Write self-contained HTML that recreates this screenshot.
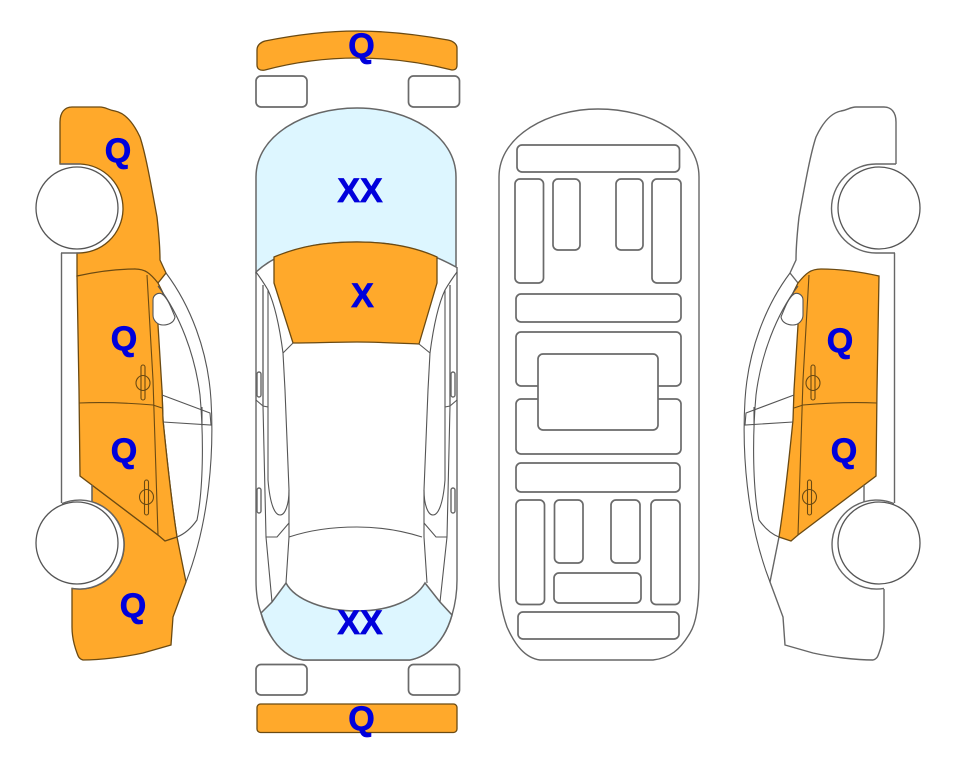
<!DOCTYPE html>
<html>
<head>
<meta charset="utf-8">
<style>
html,body{margin:0;padding:0;background:#fff;width:963px;height:768px;overflow:hidden}
svg{display:block}
text{font-family:"Liberation Sans",sans-serif;font-weight:bold;font-size:34px;fill:#0000dc;stroke:#0000dc;stroke-width:.7;text-anchor:middle}
.g{fill:none;stroke:#666;stroke-width:1.4}
.k{fill:none;stroke:#555;stroke-width:1.1}
.r{fill:#fff;stroke:#6a6a6a;stroke-width:1.7}
.o{fill:#ffa92b;stroke:#6b4a12;stroke-width:1.3}
.b{fill:#ddf6ff;stroke:#666;stroke-width:1.5}
.d{fill:none;stroke:#6b4a12;stroke-width:1.1}
</style>
</head>
<body>
<svg width="963" height="768" viewBox="0 0 963 768" xmlns="http://www.w3.org/2000/svg">
<defs>
<g id="door">
<path class="o" d="M77,276 C95,272 115,269 135,269 C145,269 150,273 158,283 L163,293 L158,325 L162,390 L163,420 C167,460 172,505 177,537 L165,541 L158,535 L80,476 L79,390 Z"/>
<path class="d" d="M147,275 L153,380 L158,535"/>
<path class="d" d="M79,403 C105,402 130,403 153,405 L162,408"/>
<rect class="d" x="141" y="365" width="4" height="35" rx="2"/>
<ellipse class="d" cx="143" cy="383" rx="7" ry="7.5"/>
<rect class="d" x="144.500" y="480" width="4" height="35" rx="2"/>
<ellipse class="d" cx="146.500" cy="497" rx="7" ry="7.500"/>
</g>
<g id="lines">
<path class="k" d="M166,273 C190,305 208,350 211,400 C214,450 210,520 186,582"/>
<path class="k" d="M158,286 C180,315 195,355 200,395 C204,440 203,490 197,520 C190,530 182,535 177,537"/>
<path class="k" d="M162,395 L210,413 L211,425 L163,422"/>
<path class="k" d="M202,407 L202,426"/>
<path class="g" d="M61.500,253 L61.500,503"/>
<path class="g" d="M92,485 L92,502"/>
<path class="g" d="M72,588.400 A44.500,44.500 0 1 0 62,503.600"/>
<circle cx="77" cy="208" r="41" fill="#fff" stroke="#555" stroke-width="1.3"/>
<circle cx="77" cy="543" r="41" fill="#fff" stroke="#555" stroke-width="1.3"/>
<path d="M153,300 C153,295 158,292 162,294 C168,298 172,310 175,317 C174,323 168,325 163,325 C157,325 153,320 153,315 Z" fill="#fff" stroke="#555" stroke-width="1.1"/>
</g>
</defs>

<!-- left car -->
<path class="o" d="M60,164 L60,122 C60,112 65,107 72,107 L100,107 C106,107 108,110 115,111 C125,113 133,122 140,137 C146,155 152,190 157,217 C159,235 160,250 160,260 L166,273 L158,283 L135,269 L77,276 L77,253 A44.5,44.5 0 0 0 80,164 Z"/>
<path class="o" d="M162,390 L163,420 C167,460 172,505 177,537 L186,582 L173,617 L171,645 L143,653 C125,657 100,660 83,660 C79,659 78,656 77,653 C74,645 72,635 72,627 L72,588.400 A44.500,44.500 0 0 0 92,501.800 L92,485 L158,535 Z"/>
<use href="#door"/>
<use href="#lines"/>
<path class="g" d="M61,253 L80,253 M60,164 L80,164"/>

<!-- right car -->
<g transform="translate(956,0) scale(-1,1)">
<path class="g" d="M60,164 L60,122 C60,112 65,107 72,107 L100,107 C106,107 108,110 115,111 C125,113 133,122 140,137 C146,155 152,190 157,217 C159,235 160,250 160,260 L166,273"/>
<path class="g" d="M177,537 L186,582 L173,617 L171,645 L143,653 C125,657 100,660 83,660 C79,659 78,656 77,653 C74,645 72,635 72,627 L72,589"/>
<path class="g" d="M158,283 L166,273"/>
<path class="g" d="M80,253 A44.5,44.5 0 0 0 80,164 L60,164 M61,253 L80,253"/>
<use href="#door"/>
<use href="#lines"/>
</g>

<!-- top view: bumpers and small rects -->
<path class="o" d="M257,50 C257,45 261,42 265,41 C295,35 325,31 357,31 C390,31 420,35 448,40 C453,41 457,44 457,48 L457,65 C457,69 455,70 452,70 C420,62 390,58 357,58 C325,58 295,62 265,70 C260,71 257,69 257,65 Z"/>
<rect class="r" x="256" y="76" width="51" height="31" rx="5"/>
<rect class="r" x="408.500" y="76" width="51" height="31" rx="5"/>
<rect class="r" x="256" y="664.500" width="51" height="30.500" rx="5"/>
<rect class="r" x="408.500" y="664.500" width="51" height="30.500" rx="5"/>
<rect class="o" x="257" y="704" width="200" height="28.500" rx="3.500"/>

<!-- top view: hood and rear glass -->
<path class="g" d="M256,272 L256,580 C256,595 258,605 261,613 C265,630 275,650 303,660 L410,660 C430,656 445,640 452,615 C455,605 457,595 457,580 L457,267"/>
<path class="b" d="M256,272 L256,177 C256,135 305,108 357,108 C408,108 456,135 456,177 L456,267 C425,250 395,242 357,242 C315,242 280,250 256,272 Z"/>
<path class="b" d="M261,613 L272,602 L286,583 C295,600 325,611 357,611 C390,611 415,600 425,583 L440,602 L452,615 C445,640 430,656 410,660 L303,660 C280,656 268,636 261,613 Z"/>
<path class="o" d="M274,257 C300,246 325,242 357,242 C390,242 415,247 437,257 L437,283 L419,344 C395,343 375,342 357,342 C335,342 315,343 293,343 L274,283 Z"/>
<path class="k" d="M256,272 C262,280 265,285 268,290 C275,305 280,330 283,353 L285,390 L289,490 L289,537 L286,583"/>
<path class="k" d="M283,353 L293,343"/>
<path class="k" d="M457,272 C451,280 448,285 445,290 C438,305 433,330 430,353 L428,390 L424,490 L424,537 L427,583"/>
<path class="k" d="M430,353 L419,344"/>
<path class="k" d="M289,537 C310,530 335,527 357,527 C380,527 400,530 422,537"/>
<path class="k" d="M268,290 L268,480 C270,505 275,515 280,515 C285,515 289,505 289,490"/>
<path class="k" d="M445,290 L445,480 C443,505 438,515 433,515 C428,515 424,505 424,490"/>
<path class="k" d="M266,537 L277,537 L289,523 M447,537 L436,537 L424,523"/>
<path class="k" d="M263,406 L266,537 L272,602 M450,406 L447,537 L440,602"/>
<path class="k" d="M256,400 L263,406 L268,407 M457,400 L450,406 L445,407"/>
<path class="g" d="M263,285 L263,406 M450,285 L450,406"/>
<rect class="g" x="257" y="372" width="4" height="25" rx="2"/>
<rect class="g" x="257" y="488" width="4" height="25" rx="2"/>
<rect class="g" x="451" y="372" width="4" height="25" rx="2"/>
<rect class="g" x="451" y="488" width="4" height="25" rx="2"/>

<!-- underbody -->
<path class="g" d="M499,177 C499,135 550,109 598,109 C650,109 699,135 699,177 L699,580 C699,610 695,625 690,633 C680,650 670,658 653,660 L540,660 C525,658 515,645 507,627 C501,610 499,595 499,580 Z"/>
<rect class="r" x="517" y="145" width="162.500" height="27" rx="5"/>
<rect class="r" x="515" y="179" width="28.500" height="104" rx="5"/>
<rect class="r" x="553" y="179" width="27" height="71" rx="5"/>
<rect class="r" x="616" y="179" width="27" height="71" rx="5"/>
<rect class="r" x="652" y="179" width="29" height="104" rx="5"/>
<rect class="r" x="516" y="294" width="165" height="28" rx="5"/>
<rect class="r" x="516" y="332" width="165" height="54" rx="5"/>
<rect class="r" x="516" y="399" width="165" height="55" rx="5"/>
<rect class="r" x="538" y="354" width="120" height="76" rx="5"/>
<rect class="r" x="516" y="463" width="164" height="29" rx="5"/>
<rect class="r" x="516" y="500" width="28.500" height="104.500" rx="5"/>
<rect class="r" x="554.500" y="500" width="28.500" height="63" rx="5"/>
<rect class="r" x="611" y="500" width="29" height="63" rx="5"/>
<rect class="r" x="651" y="500" width="29" height="104.500" rx="5"/>
<rect class="r" x="554" y="573" width="87" height="30" rx="5"/>
<rect class="r" x="518" y="612" width="161" height="27" rx="5"/>

<!-- labels -->
<text x="118" y="162">Q</text>
<text x="124" y="350">Q</text>
<text x="124" y="462">Q</text>
<text x="133" y="617">Q</text>
<text x="361.500" y="57">Q</text>
<text x="360" y="202">XX</text>
<text x="362.500" y="307">X</text>
<text x="360" y="634">XX</text>
<text x="361.500" y="730">Q</text>
<text x="840" y="352">Q</text>
<text x="844" y="462">Q</text>
</svg>
</body>
</html>
